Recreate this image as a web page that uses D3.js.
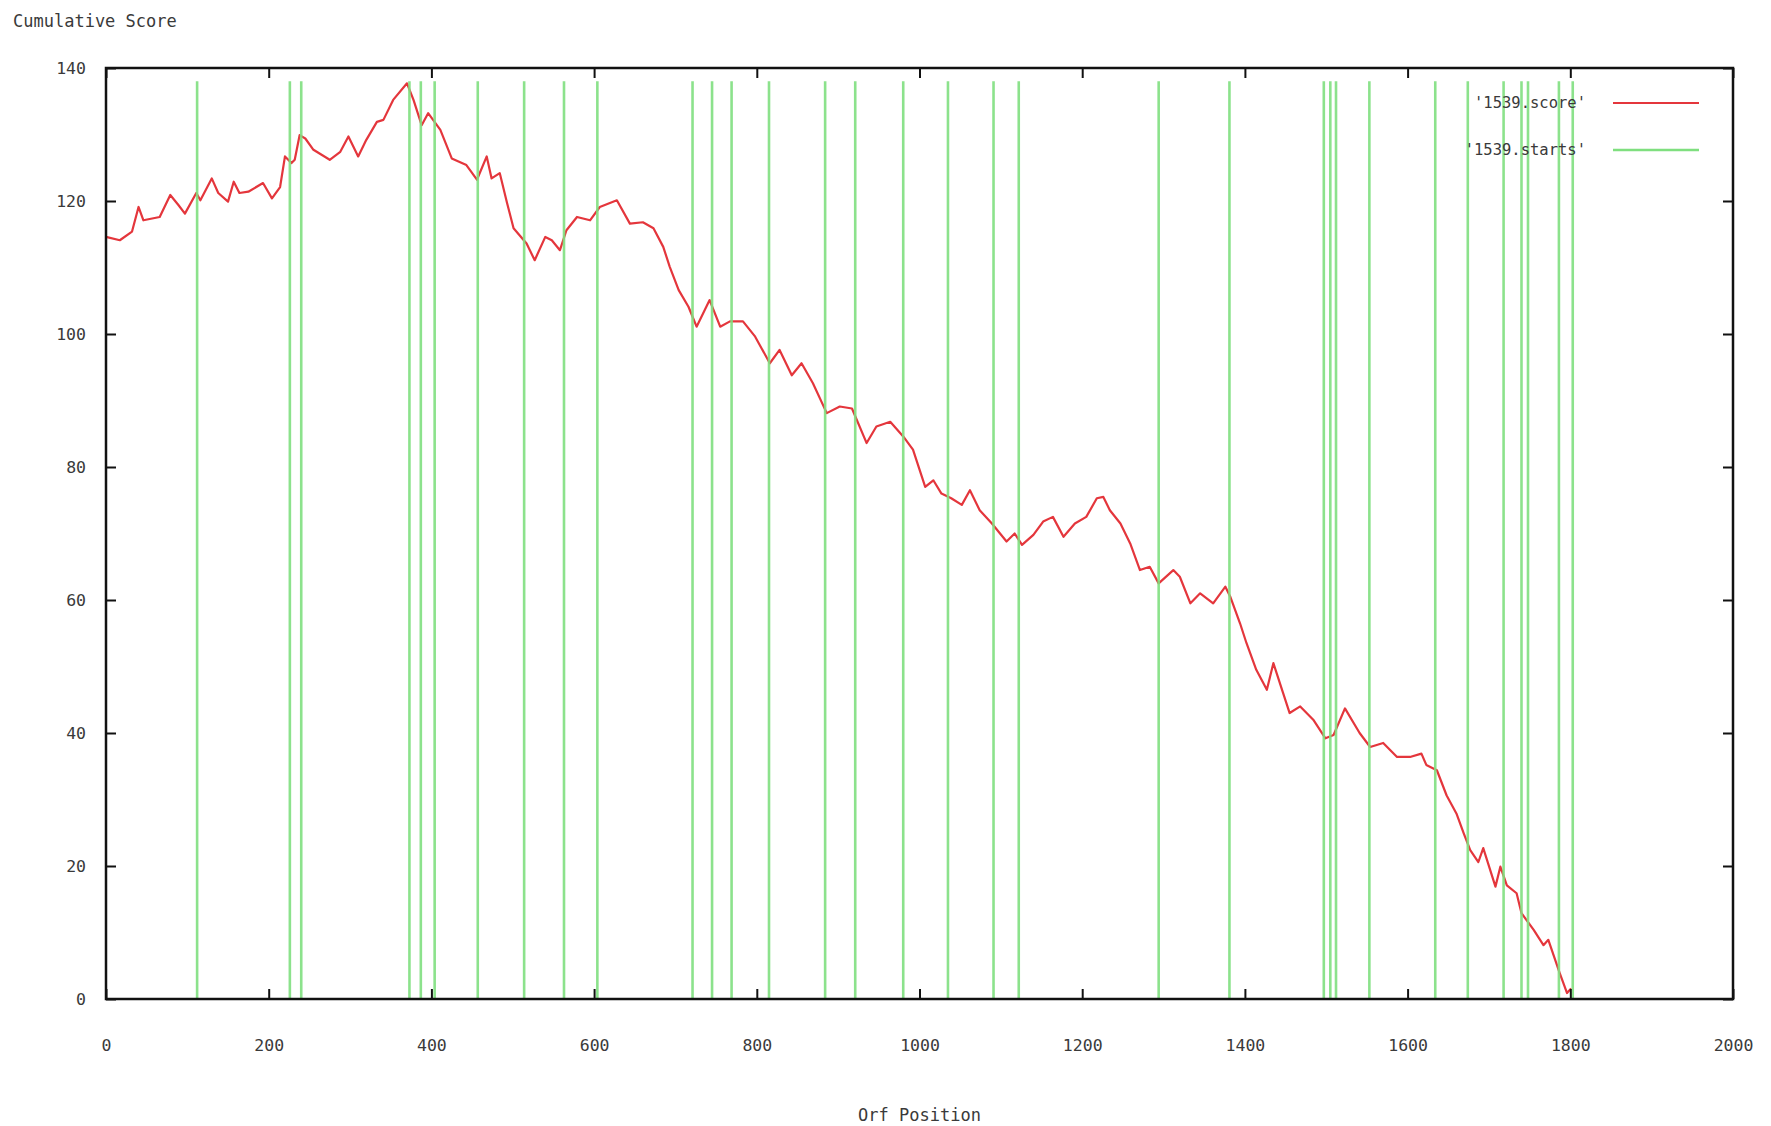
<!DOCTYPE html>
<html>
<head>
<meta charset="utf-8">
<script src="https://cdn.jsdelivr.net/npm/d3@7"></script>
<style>
  html, body { margin: 0; padding: 0; background: #fff; }
  svg { display: block; }
  text { font-family: "DejaVu Sans Mono", "Liberation Mono", monospace; fill: #3a3a3a; }
</style>
</head>
<body>
<svg id="chart" width="1771" height="1126"></svg>
<script>
// ---- data ----
const scorePositions = [0,17,32,40,46,66,79,89,97,111,116,130,138,150,157,164,175,193,204,214,220,228,232,238,245,255,275,288,298,310,320,333,341,353,370,378,388,396,411,425,443,456,468,474,484,493,501,517,527,540,548,558,566,579,595,607,628,644,660,673,685,693,704,716,726,742,755,767,783,798,816,828,843,855,869,886,902,917,935,947,964,980,992,1007,1017,1027,1039,1052,1062,1074,1089,1107,1117,1126,1140,1152,1164,1177,1191,1205,1218,1226,1234,1247,1259,1271,1283,1294,1312,1320,1333,1345,1361,1376,1382,1394,1402,1414,1427,1435,1447,1455,1468,1484,1499,1509,1523,1541,1554,1570,1587,1603,1617,1623,1636,1648,1660,1669,1677,1687,1693,1708,1714,1722,1734,1740,1755,1767,1773,1787,1796,1801];
const scoreValues = [114.6,114.1,115.4,119.1,117.1,117.6,120.9,119.4,118.1,121.2,120.1,123.4,121.2,119.9,122.9,121.2,121.4,122.7,120.4,122.1,126.7,125.7,126.2,129.9,129.4,127.7,126.2,127.4,129.7,126.7,129.2,131.9,132.2,135.2,137.7,135.2,131.4,133.2,130.7,126.4,125.4,123.2,126.7,123.4,124.2,119.7,115.9,113.6,111.1,114.6,114.1,112.6,115.6,117.6,117.1,119.1,120.1,116.6,116.8,115.9,113.1,110.1,106.6,104.1,101.1,105.1,101.1,101.9,101.9,99.6,95.6,97.6,93.8,95.6,92.6,88.1,89.1,88.8,83.6,86.1,86.8,84.6,82.6,77.0,78.0,76.0,75.3,74.3,76.5,73.5,71.5,68.8,70.0,68.3,69.8,71.8,72.5,69.5,71.5,72.5,75.3,75.5,73.5,71.5,68.5,64.5,65.0,62.5,64.5,63.5,59.5,61.0,59.5,62.0,60.5,56.5,53.5,49.5,46.5,50.5,46.0,43.0,44.0,42.0,39.2,39.7,43.7,40.0,37.9,38.5,36.4,36.4,36.9,35.2,34.4,30.6,27.9,24.9,22.4,20.6,22.7,16.9,19.9,17.1,15.9,12.9,10.4,8.1,8.9,3.9,0.9,1.6];
const startPositions = [112,226,240,373,387,404,457,514,563,604,721,745,769,815,884,921,980,1035,1091,1122,1294,1381,1497,1505,1512,1553,1634,1674,1718,1740,1748,1786,1803];
const startHeight = 138;
const xTicks = [0,200,400,600,800,1000,1200,1400,1600,1800,2000];
const yTicks = [0,20,40,60,80,100,120,140];
const seriesNames = ["'1539.score'", "'1539.starts'"];
const seriesColors = ["#e4363c", "#7fdf7f"];
const xTitle = "Orf Position";
const yTitle = "Cumulative Score";

// ---- layout ----
const svg = d3.select("#chart");
const L = 106, R = 1733, T = 68, B = 999;
const x = d3.scaleLinear().domain([0, 2000]).range([L, R]);
const y = d3.scaleLinear().domain([0, 140]).range([B, T]);

const plot = svg.append("g");

// score line
const scoreData = scorePositions.map((p, i) => ({p, v: scoreValues[i]}));
const line = d3.line().x(d => x(d.p)).y(d => y(d.v));
plot.append("path").datum(scoreData)
  .attr("d", line).attr("fill", "none")
  .attr("stroke", seriesColors[0]).attr("stroke-width", 2.2)
  .attr("stroke-linejoin", "round");

// start impulses
plot.selectAll("line.start").data(startPositions).join("line")
  .attr("class", "start")
  .attr("x1", d => x(d)).attr("x2", d => x(d))
  .attr("y1", y(0)).attr("y2", y(startHeight))
  .attr("stroke", seriesColors[1]).attr("stroke-width", 2.6)
  .attr("stroke-opacity", 0.9);

// axes (inward ticks, mirrored)
const tl = 10;
const axB = svg.append("g").attr("transform", `translate(0,${B})`)
  .call(d3.axisBottom(x).tickValues(xTicks).tickSize(-tl).tickPadding(40).tickFormat(d3.format("d")));
const axT = svg.append("g").attr("transform", `translate(0,${T})`)
  .call(d3.axisTop(x).tickValues(xTicks).tickSize(-tl).tickFormat(""));
const axL = svg.append("g").attr("transform", `translate(${L},0)`)
  .call(d3.axisLeft(y).tickValues(yTicks).tickSize(-tl).tickPadding(20).tickFormat(d3.format("d")));
const axR = svg.append("g").attr("transform", `translate(${R},0)`)
  .call(d3.axisRight(y).tickValues(yTicks).tickSize(-tl).tickFormat(""));
[axB, axT, axL, axR].forEach(a => {
  a.select(".domain").remove();
  a.selectAll(".tick line").attr("stroke", "#111").attr("stroke-width", 2);
  a.selectAll(".tick text").attr("font-size", 16.5).attr("fill", "#3a3a3a")
    .attr("font-family", "DejaVu Sans Mono, monospace");
});

// frame
svg.append("rect").attr("x", L).attr("y", T).attr("width", R - L).attr("height", B - T)
  .attr("fill", "none").attr("stroke", "#111").attr("stroke-width", 2.5);

// titles
svg.append("text").attr("x", 13).attr("y", 27).attr("font-size", 17).text(yTitle);
svg.append("text").attr("x", (L + R) / 2).attr("y", 1121).attr("font-size", 17)
  .attr("text-anchor", "middle").text(xTitle);

// legend
const legY = [103, 150];
seriesNames.forEach((n, i) => {
  svg.append("text").attr("x", 1586).attr("y", legY[i] + 5).attr("font-size", 15.5)
    .attr("text-anchor", "end").text(n);
  svg.append("line").attr("x1", 1613).attr("x2", 1699).attr("y1", legY[i]).attr("y2", legY[i])
    .attr("stroke", seriesColors[i]).attr("stroke-width", i === 0 ? 2 : 2.6);
});
</script>
</body>
</html>
